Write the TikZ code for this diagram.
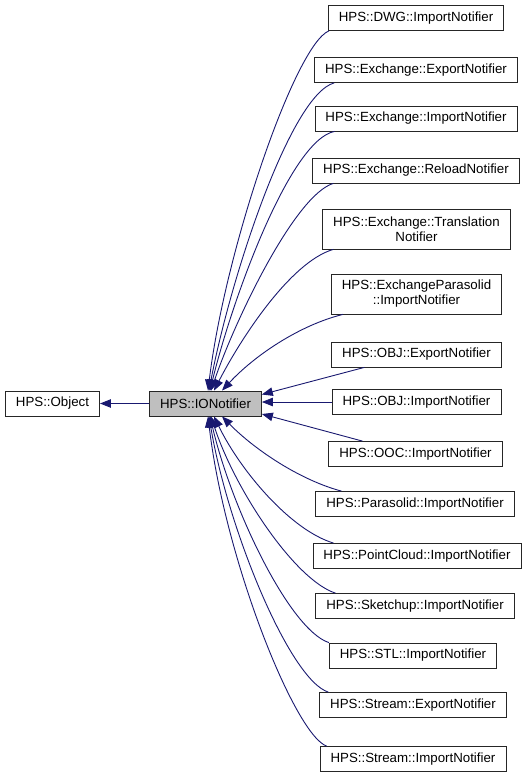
\documentclass[tikz,border=0pt]{standalone}
\usepackage{fontspec}
\setmainfont{Liberation Sans}
\usetikzlibrary{arrows.meta}
\definecolor{edgeblue}{HTML}{191970}
\definecolor{ionfill}{HTML}{BFBFBF}
\tikzset{
  cls/.style={draw=black!85, line width=.8pt, fill=white, minimum height=25pt,
    inner xsep=10.5pt, inner ysep=1pt, align=center,
    font=\fontsize{13.3}{15}\selectfont},
  inh/.style={draw=edgeblue, line width=.9pt, {Triangle[length=11pt,width=8.5pt]}-}
}
\begin{document}
\begin{tikzpicture}[x=1pt,y=-1pt]
    \useasboundingbox (0,0) rectangle (527,777);
    % base and class
    \node[cls] (obj) at (52.5,403.5) {HPS::Object};
    \node[cls,fill=ionfill] (io) at (205.5,403.5) {HPS::IONotifier};
    % derived classes
    \node[cls] (dwg) at (416,18) {HPS::DWG::ImportNotifier};
    \node[cls] (exexp) at (416,70) {HPS::Exchange::ExportNotifier};
    \node[cls] (eximp) at (416,118.5) {HPS::Exchange::ImportNotifier};
    \node[cls] (exrel) at (416,170.5) {HPS::Exchange::ReloadNotifier};
    \node[cls,minimum height=40pt] (extra) at (416.5,229) {HPS::Exchange::Translation\\Notifier};
    \node[cls,minimum height=40pt] (expara) at (416.5,294) {HPS::ExchangeParasolid\\::ImportNotifier};
    \node[cls] (objexp) at (416.5,354.5) {HPS::OBJ::ExportNotifier};
    \node[cls] (objimp) at (416.5,402) {HPS::OBJ::ImportNotifier};
    \node[cls] (oocimp) at (415.5,454) {HPS::OOC::ImportNotifier};
    \node[cls] (paraimp) at (415,504) {HPS::Parasolid::ImportNotifier};
    \node[cls] (pcimp) at (417,556) {HPS::PointCloud::ImportNotifier};
    \node[cls] (skimp) at (415,606) {HPS::Sketchup::ImportNotifier};
    \node[cls] (stlimp) at (413,655.5) {HPS::STL::ImportNotifier};
    \node[cls] (strexp) at (413,705) {HPS::Stream::ExportNotifier};
    \node[cls] (strimp) at (413,759) {HPS::Stream::ImportNotifier};
    % inheritance edges
    \draw[inh] (obj.east) -- (io.west);
    \draw[inh] ([xshift=2.5pt]io.north) .. controls (225,250) and (295,45) .. ([xshift=1pt]dwg.south west);
    \draw[inh] ([xshift=3.5pt]io.north) .. controls (230,280) and (290,95) .. ([xshift=20pt]exexp.south west);
    \draw[inh] ([xshift=4.5pt]io.north) .. controls (232,300) and (290,140) .. ([xshift=20pt]eximp.south west);
    \draw[inh] ([xshift=5.5pt]io.north) .. controls (235,320) and (295,195) .. ([xshift=21pt]exrel.south west);
    \draw[inh] ([xshift=8.5pt]io.north) .. controls (240,340) and (290,262) .. ([xshift=11pt]extra.south west);
    \draw[inh] ([xshift=16.5pt]io.north) .. controls (255,355) and (300,325) .. ([xshift=12pt]expara.south west);
    \draw[inh] ([yshift=9pt]io.east) -- ([xshift=33pt]objexp.south west);
    \draw[inh] ([yshift=1.5pt]io.east) -- (objimp.west);
    \draw[inh] ([yshift=-10.5pt]io.east) -- ([xshift=34pt]oocimp.north west);
    \draw[inh] ([xshift=16.5pt]io.south) .. controls (255,450) and (300,480) .. ([xshift=26pt]paraimp.north west);
    \draw[inh] ([xshift=8.5pt]io.south) .. controls (240,470) and (290,530) .. ([xshift=21pt]pcimp.north west);
    \draw[inh] ([xshift=5.5pt]io.south) .. controls (235,490) and (295,580) .. ([xshift=20pt]skimp.north west);
    \draw[inh] ([xshift=4.5pt]io.south) .. controls (232,510) and (290,630) .. ([xshift=0pt]stlimp.north west);
    \draw[inh] ([xshift=3.5pt]io.south) .. controls (228,530) and (290,680) .. ([xshift=9pt]strexp.north west);
    \draw[inh] ([xshift=2.5pt]io.south) .. controls (225,560) and (295,735) .. ([xshift=7pt]strimp.north west);
\end{tikzpicture}
\end{document}
